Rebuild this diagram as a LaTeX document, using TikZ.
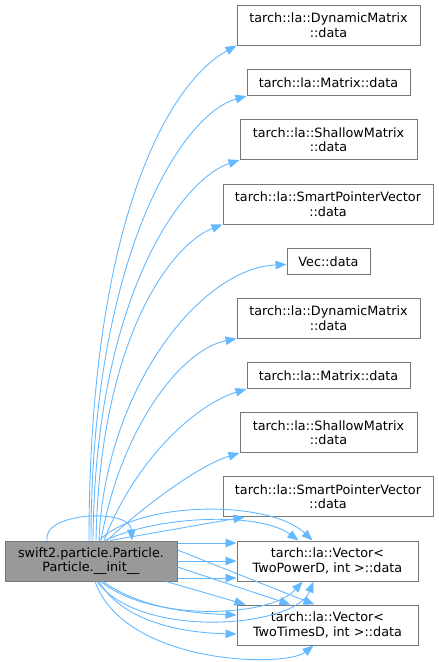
\documentclass[tikz,border=0pt]{standalone}
\usepackage{fontspec}
\setmainfont{DejaVu Sans}
\usetikzlibrary{arrows.meta}
\definecolor{edgeblue}{HTML}{63B8FF}
\definecolor{boxgray}{HTML}{777777}
\definecolor{callergray}{HTML}{999999}

\begin{document}
\begin{tikzpicture}[
  x=1pt, y=-1pt,
  >={Triangle[length=11pt, width=8.5pt]},
  every node/.style={font=\fontsize{12.8}{14.5}\selectfont},
  fn/.style     = {draw=boxgray, line width=1pt, fill=white, align=center, inner sep=0pt, minimum height=40pt},
  fnone/.style  = {fn, minimum height=26pt},
  caller/.style = {fn, fill=callergray},
  call/.style   = {->, edgeblue, line width=0.9pt},
]
  \useasboundingbox (0,0) rectangle (439,662);
  % the caller, bottom left
  \node[caller, minimum width=172pt] (src)  at (91,561)    {swift2.particle.Particle.\\Particle.\_\_init\_\_};
  % callee column, top to bottom
  \node[fn,    minimum width=183pt]  (dm1)  at (328.5,25)  {tarch::la::DynamicMatrix\\::data};
  \node[fnone, minimum width=163pt]  (m1)   at (328.5,82.5) {tarch::la::Matrix::data};
  \node[fn,    minimum width=177pt]  (sm1)  at (328.5,139.5) {tarch::la::ShallowMatrix\\::data};
  \node[fn,    minimum width=210pt]  (spv1) at (328,204)   {tarch::la::SmartPointerVector\\::data};
  \node[fnone, minimum width=83pt]   (vec)  at (328.5,261.5) {Vec::data};
  \node[fn,    minimum width=183pt]  (dm2)  at (328.5,318) {tarch::la::DynamicMatrix\\::data};
  \node[fnone, minimum width=163pt]  (m2)   at (328.5,375.5) {tarch::la::Matrix::data};
  \node[fn,    minimum width=177pt]  (sm2)  at (328.5,432.5) {tarch::la::ShallowMatrix\\::data};
  \node[fn,    minimum width=210pt]  (spv2) at (328,496.5) {tarch::la::SmartPointerVector\\::data};
  \node[fn,    minimum width=181pt]  (vpd)  at (327.5,561) {tarch::la::Vector<\\TwoPowerD, int >::data};
  \node[fn,    minimum width=181pt]  (vtd)  at (327.5,625) {tarch::la::Vector<\\TwoTimesD, int >::data};

  % long calls rising from the top of the caller
  \foreach \t/\s/\ax/\ay/\bx/\by in {dm1/-2/89/230/165/85, m1/0/91/260/180/115,
      sm1/2/95/300/180/180, spv1/5/100/340/170/245, dm2/10/120/430/180/350,
      m2/13/135/460/195/405, sm2/16/145/505/200/465}
    \draw[call] ([xshift=\s pt]src.north) .. controls (\ax,\ay) and (\bx,\by) .. (\t.south west);
  \draw[call] ([xshift=8pt]src.north) .. controls (105,390) and (200,268) .. ([yshift=-3pt]vec.west);
  \draw[call] ([xshift=19pt]src.north) -- ([xshift=22pt]spv2.south west);

  % recursive call
  \draw[call] ([xshift=-44pt]src.north) .. controls (42,512) and (130,508) .. ([xshift=41pt]src.north);

  % calls into Vector<TwoPowerD>
  \foreach \s in {18, 0, -17}
    \draw[call] ([yshift=\s pt]src.east) -- ([yshift=\s pt]vpd.west);
  \draw[call] ([xshift=8pt]src.north) .. controls (140,500) and (270,500) .. ([xshift=-15pt]vpd.north);
  \draw[call] ([xshift=14pt]src.north) .. controls (160,515) and (260,512) .. ([xshift=-29pt]vpd.north);
  \draw[call] ([xshift=10pt]src.south) .. controls (150,622) and (270,618) .. ([xshift=-25pt]vpd.south);
  \draw[call] ([xshift=6pt]src.south) .. controls (140,640) and (295,628) .. ([xshift=-14pt]vpd.south);

  % calls into Vector<TwoTimesD>
  \draw[call] ([xshift=12pt]src.south) .. controls (140,608) and (190,613) .. ([yshift=10pt]vtd.west);
  \draw[call] ([xshift=8pt]src.south) .. controls (125,625) and (190,633) .. ([yshift=-9pt]vtd.west);
  \draw[call] ([xshift=75pt]src.south) -- ([xshift=-82pt]vtd.north);
  \draw[call] ([yshift=-6pt]src.east) -- ([xshift=-37pt]vtd.north);
  \draw[call] ([yshift=11pt]src.east) -- ([xshift=-13pt]vtd.north);
  \draw[call] ([xshift=4pt]src.south) .. controls (125,665) and (285,668) .. ([xshift=-14pt]vtd.south);
\end{tikzpicture}
\end{document}
